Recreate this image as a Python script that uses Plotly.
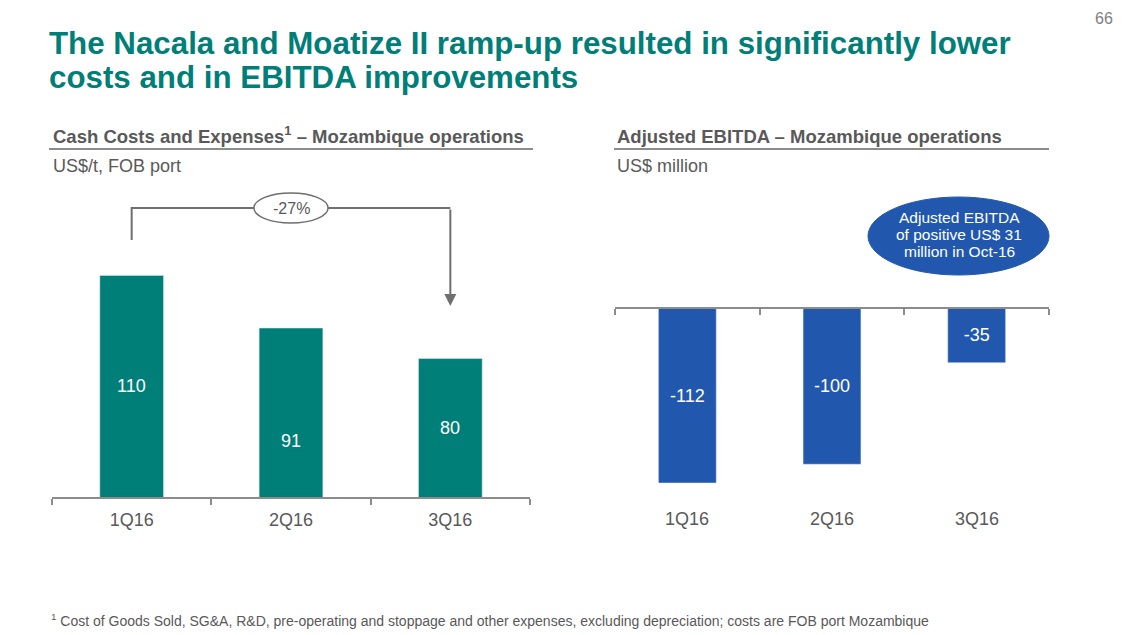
import plotly.graph_objects as go

categories = ["1Q16", "2Q16", "3Q16"]
cash_costs = [110, 91, 80]
ebitda = [-112, -100, -35]
change_label = "-27%"
title_lines = ["The Nacala and Moatize II ramp-up resulted in significantly lower",
               "costs and in EBITDA improvements"]
callout_lines = ["Adjusted EBITDA", "of positive US$ 31", "million in Oct-16"]

# page body has an 8px margin: figure is drawn from (8, 8)
OFF = 8
W, H = 1128 - OFF, 635 - OFF
TEAL = "#007E78"
BLUE = "#2158AE"
GRAY = "#595959"
LINE = "#8c8c8c"
FONT = "Liberation Sans, Arial, sans-serif"

def px_x(p):
    return (p - OFF) / W

def px_y(p):
    return (H - (p - OFF)) / H

L_SCALE = 2.77      # px per unit, left chart
L_BASE = 30         # value at left chart baseline
R_SCALE = 1.5625    # px per unit, right chart
PLOT_TOP, PLOT_BOT = 190, 497
R_ZERO = 308

fig = go.Figure()
fig.add_trace(go.Bar(x=categories, y=cash_costs, marker_color=TEAL, width=0.4,
                     xaxis="x", yaxis="y", hoverinfo="skip"))
fig.add_trace(go.Bar(x=categories, y=ebitda, marker_color=BLUE, width=0.4,
                     xaxis="x2", yaxis="y2", text=[str(v) for v in ebitda],
                     textposition="inside", insidetextanchor="middle",
                     textfont=dict(color="white", size=18, family=FONT),
                     textangle=0, hoverinfo="skip"))

axis_common = dict(type="category", showline=True, linecolor=LINE, linewidth=2,
                   ticks="outside", tickson="boundaries", ticklen=6, tickwidth=1.5,
                   tickcolor=LINE, showgrid=False, fixedrange=True,
                   tickfont=dict(size=18, color=GRAY, family=FONT))

fig.update_layout(
    width=W, height=H, margin=dict(l=0, r=0, t=0, b=0),
    paper_bgcolor="white", plot_bgcolor="white", showlegend=False,
    xaxis=dict(domain=[px_x(52), px_x(530)], anchor="y", ticklabelstandoff=5, **axis_common),
    yaxis=dict(domain=[px_y(PLOT_BOT), px_y(PLOT_TOP)],
               range=[L_BASE, L_BASE + (PLOT_BOT - PLOT_TOP) / L_SCALE],
               visible=False, fixedrange=True),
    xaxis2=dict(domain=[px_x(615), px_x(1049)], anchor="free", position=px_y(R_ZERO),
                showticklabels=False, **axis_common),
    yaxis2=dict(domain=[px_y(PLOT_BOT), px_y(PLOT_TOP)],
                range=[-(PLOT_BOT - R_ZERO) / R_SCALE, (R_ZERO - PLOT_TOP) / R_SCALE],
                visible=False, fixedrange=True),
)

def paper_text(text, x, y, size, color, xanchor="left", bold=False):
    if bold:
        text = f"<b>{text}</b>"
    return dict(text=text, x=px_x(x), y=px_y(y), xref="paper", yref="paper",
                xanchor=xanchor, yanchor="middle", showarrow=False,
                font=dict(size=size, color=color, family=FONT))

ann = []
ann.append(paper_text(title_lines[0], 47, 44, 31.3, TEAL, bold=True))
ann.append(paper_text(title_lines[1], 47, 78, 31.3, TEAL, bold=True))
ann.append(paper_text("66", 1115, 18, 16, "#7f7f7f", xanchor="right"))
ann.append(paper_text("Cash Costs and Expenses<sup>1</sup> – Mozambique operations", 51, 135, 18.5, GRAY, bold=True))
ann.append(paper_text("US$/t, FOB port", 51, 166, 18, GRAY))
ann.append(paper_text("Adjusted EBITDA – Mozambique operations", 615, 136, 18.5, GRAY, bold=True))
ann.append(paper_text("US$ million", 615, 166, 18, GRAY))
for i, line in enumerate(callout_lines):
    ann.append(paper_text(line, 959, 218 + 17 * i, 15.5, "white", xanchor="center"))
ann.append(paper_text("<sup>1</sup> Cost of Goods Sold, SG&A, R&D, pre-operating and stoppage and other expenses, excluding depreciation; costs are FOB port Mozambique",
                      49, 620, 14, GRAY))

# left bar value labels
label_shift = [0, -28, 0]
for c, v, s in zip(categories, cash_costs, label_shift):
    ann.append(dict(text=str(v), x=c, y=(L_BASE + v) / 2, xref="x", yref="y", yshift=s,
                    showarrow=False, font=dict(size=18, color="white", family=FONT)))
# right category labels
for c in categories:
    ann.append(dict(text=c, x=c, y=px_y(519), xref="x2", yref="paper", yanchor="middle",
                    showarrow=False, font=dict(size=18, color=GRAY, family=FONT)))
# bracket arrow
y_br = L_BASE + (PLOT_BOT - 208) / L_SCALE
y_start = L_BASE + (PLOT_BOT - 240) / L_SCALE
y_tip = L_BASE + (PLOT_BOT - 306) / L_SCALE
ann.append(dict(x=2, y=y_tip, ax=2, ay=y_br, xref="x", yref="y", axref="x", ayref="y",
                showarrow=True, arrowhead=2, arrowsize=1.2, arrowwidth=2, arrowcolor="#6f6f6f", text=""))
ann.append(dict(text=change_label, x=1, y=y_br, xref="x", yref="y", showarrow=False,
                font=dict(size=16, color=GRAY, family=FONT)))
fig.update_layout(annotations=ann)

shapes = []
shapes.append(dict(type="line", xref="paper", yref="paper", x0=px_x(49), x1=px_x(533),
                   y0=px_y(149), y1=px_y(149), line=dict(color=LINE, width=2)))
shapes.append(dict(type="line", xref="paper", yref="paper", x0=px_x(614), x1=px_x(1049),
                   y0=px_y(149), y1=px_y(149), line=dict(color=LINE, width=2)))
shapes.append(dict(type="path", xref="x", yref="y",
                   path=f"M 0 {y_start} L 0 {y_br} L 2 {y_br}",
                   line=dict(color="#6f6f6f", width=2)))
shapes.append(dict(type="circle", xref="x", yref="y", x0=1 - 37 / 159, x1=1 + 37 / 159,
                   y0=y_br - 15 / L_SCALE, y1=y_br + 15 / L_SCALE,
                   line=dict(color="#6f6f6f", width=1.5), fillcolor="white"))
shapes.append(dict(type="circle", xref="paper", yref="paper", x0=px_x(868), x1=px_x(1049),
                   y0=px_y(275), y1=px_y(197), line=dict(color=BLUE, width=1), fillcolor=BLUE))
fig.update_layout(shapes=shapes)

fig.write_html("out.html")
